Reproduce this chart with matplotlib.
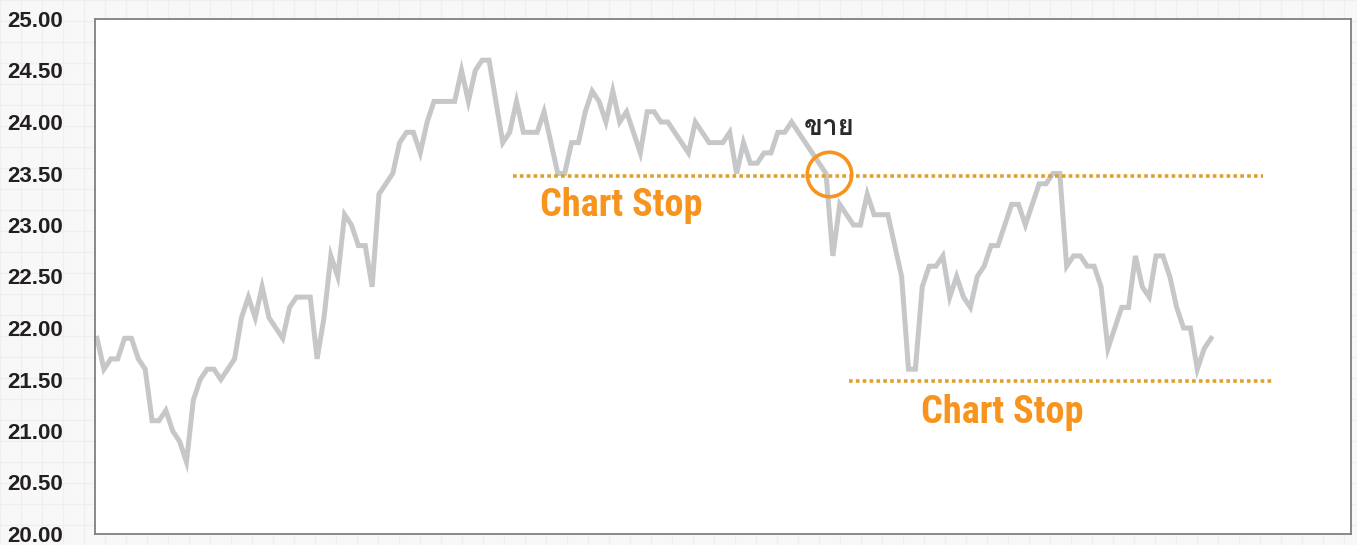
import matplotlib
matplotlib.use("Agg")
from matplotlib import pyplot as plt
from matplotlib import font_manager
from matplotlib.ft2font import FT2Font

# daily closing prices
prices = [
    21.9, 21.6, 21.7, 21.7, 21.9, 21.9, 21.7, 21.6, 21.1, 21.1,
    21.2, 21.0, 20.9, 20.7, 21.3, 21.5, 21.6, 21.6, 21.5, 21.6,
    21.7, 22.1, 22.3, 22.1, 22.4, 22.1, 22.0, 21.9, 22.2, 22.3,
    22.3, 22.3, 21.7, 22.1, 22.7, 22.5, 23.1, 23.0, 22.8, 22.8,
    22.4, 23.3, 23.4, 23.5, 23.8, 23.9, 23.9, 23.7, 24.0, 24.2,
    24.2, 24.2, 24.2, 24.5, 24.2, 24.5, 24.6, 24.6, 24.2, 23.8,
    23.9, 24.2, 23.9, 23.9, 23.9, 24.1, 23.8, 23.5, 23.5, 23.8,
    23.8, 24.1, 24.3, 24.2, 24.0, 24.3, 24.0, 24.1, 23.9, 23.7,
    24.1, 24.1, 24.0, 24.0, 23.9, 23.8, 23.7, 24.0, 23.9, 23.8,
    23.8, 23.8, 23.9, 23.5, 23.8, 23.6, 23.6, 23.7, 23.7, 23.9,
    23.9, 24.0, 23.9, 23.8, 23.7, 23.6, 23.5, 22.7, 23.2, 23.1,
    23.0, 23.0, 23.3, 23.1, 23.1, 23.1, 22.8, 22.5, 21.6, 21.6,
    22.4, 22.6, 22.6, 22.7, 22.3, 22.5, 22.3, 22.2, 22.5, 22.6,
    22.8, 22.8, 23.0, 23.2, 23.2, 23.0, 23.2, 23.4, 23.4, 23.5,
    23.5, 22.6, 22.7, 22.7, 22.6, 22.6, 22.4, 21.8, 22.0, 22.2,
    22.2, 22.7, 22.4, 22.3, 22.7, 22.7, 22.5, 22.2, 22.0, 22.0,
    21.6, 21.8, 21.9,
]
days = list(range(len(prices)))

y_ticks = [20.0, 20.5, 21.0, 21.5, 22.0, 22.5, 23.0, 23.5, 24.0, 24.5, 25.0]

# stop levels: (price, first day, last day, label day)
stop_upper = (23.48, 60.5, 169.6, 76.3)
stop_lower = (21.49, 109.4, 171.0, 131.6)
sell_day = 106.4
sell_price = 23.5


def pick_font(names):
    have = {f.name for f in font_manager.fontManager.ttflist}
    for n in names:
        if n in have:
            return n
    return 'DejaVu Sans'


def thai_font():
    for f in font_manager.fontManager.ttflist:
        try:
            if 0x0E02 in FT2Font(f.fname).get_charmap():
                return f.name
        except Exception:
            pass
    return 'DejaVu Sans'


label_font = pick_font(['Liberation Sans', 'Arial', 'DejaVu Sans'])
narrow_font = pick_font(['Liberation Sans Narrow', 'Roboto Condensed', 'Liberation Sans'])
thai = thai_font()

fig = plt.figure(figsize=(13.57, 5.45), dpi=100)
fig.patch.set_facecolor('#F8F8F8')

# faint grid texture behind everything
bg = fig.add_axes([0, 0, 1, 1], zorder=-5)
bg.set_xlim(0, 1357)
bg.set_ylim(545, 0)
for gx in range(0, 1357, 21):
    bg.axvline(gx, color='#EFEFEF', lw=1)
for gy in range(0, 545, 21):
    bg.axhline(gy, color='#EFEFEF', lw=1)
bg.axis('off')

ax = fig.add_axes([95 / 1357, 1 - 534 / 545, 1256 / 1357, 515 / 545])
ax.set_facecolor('white')
ax.plot(days, prices, color='#C6C7C9', lw=3.6, solid_joinstyle='miter')

for level, d0, d1, dl in (stop_upper, stop_lower):
    ax.plot([d0, d1], [level, level], color='#DFA02C', lw=2.6,
            linestyle=(0, (1, 0.9)), dash_capstyle='butt')

ax.text(stop_upper[3], stop_upper[0] - 0.29, 'Chart Stop',
        color='#F7941D', fontsize=27.5, fontweight='bold', family=narrow_font,
        ha='center', va='center')
ax.text(stop_lower[3], stop_lower[0] - 0.31, 'Chart Stop',
        color='#F7941D', fontsize=27.5, fontweight='bold', family=narrow_font,
        ha='center', va='center')

ax.plot(sell_day, sell_price, marker='o', markersize=32, markerfacecolor='none',
        markeredgecolor='#F7941D', markeredgewidth=2.6)
ax.text(sell_day, 23.95, 'ขาย', color='#2B2B2B', fontsize=20, fontweight='bold',
        family=[thai, 'DejaVu Sans'], ha='center', va='center')

ax.set_xlim(-0.3, 182.35)
ax.set_ylim(20, 25)
ax.set_yticks(y_ticks)
ax.set_yticklabels(['%.2f' % t for t in y_ticks], fontsize=16,
                   fontweight='bold', color='#231F20', family=label_font)
ax.tick_params(axis='y', length=0, pad=23)
ax.set_xticks([])
for s in ax.spines.values():
    s.set_color('#808080')
    s.set_linewidth(1.3)

fig.savefig('out.png', dpi=100, facecolor=fig.get_facecolor())
